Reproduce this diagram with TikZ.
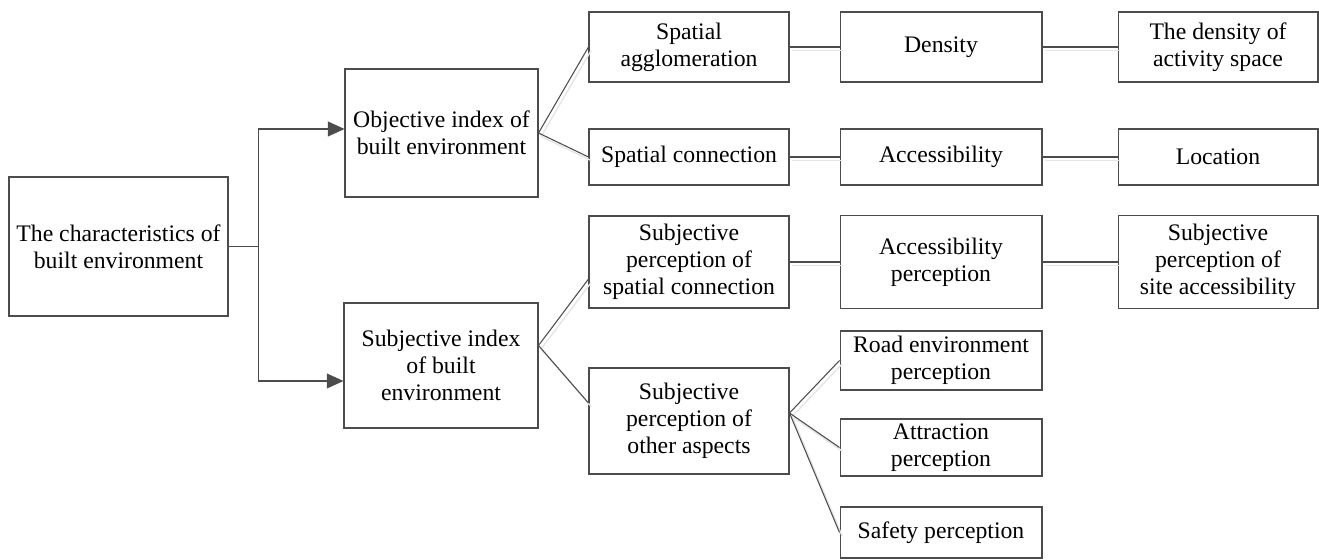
\documentclass[tikz,border=0pt]{standalone}
\usepackage{fontspec}
\setmainfont{Liberation Serif}
\usetikzlibrary{arrows.meta,positioning}

\tikzset{
	box/.style={draw=black!70, line width=0.6pt, align=center, inner sep=0pt,
		font=\fontsize{13.5}{15.4}\selectfont},
	midbox/.style={box, minimum width=4cm},
	rightbox/.style={box, minimum width=4.04cm},
	lastbox/.style={box, minimum width=4cm},
	link/.style={draw=black!70, line width=0.6pt,
		preaction={draw=black!10, line width=0.8pt, transform canvas={xshift=1.5pt,yshift=-2pt}}},
	tip/.style={draw=black!70, line width=0.6pt, -{Triangle[length=9.5pt,width=8.5pt]}}
}

\begin{document}
\begin{tikzpicture}[x=0.02cm, y=-0.02cm]
				\path[use as bounding box]
				(0,0) rectangle (1319,560);
				\node[box, minimum width=4.38cm, minimum height=2.78cm] (root) at (118.5,246.5) {The characteristics of\\built environment};
				\node[box, minimum width=3.86cm, minimum height=2.56cm] (obj) at (441.5,133) {Objective index of\\built environment};
				\node[box, minimum width=3.88cm, minimum height=2.5cm] (subj) at (441,365.5) {Subjective index\\of built\\environment};
				\node[midbox, minimum height=1.4cm] (agg) at (689,47) {Spatial\\agglomeration};
				\node[midbox, minimum height=1.12cm] (conn) at (689,157) {Spatial connection};
				\node[midbox, minimum height=1.84cm] (spsc) at (689,262) {Subjective\\perception of\\spatial connection};
				\node[midbox, minimum height=2.12cm] (spoa) at (689,421) {Subjective\\perception of\\other aspects};
				\node[rightbox, minimum height=1.4cm] (dens) at (941,47) {Density};
				\node[rightbox, minimum height=1.12cm] (acc) at (941,157) {Accessibility};
				\node[rightbox, minimum height=1.86cm] (accper) at (941,262) {Accessibility\\perception};
				\node[rightbox, minimum height=1.18cm] (road) at (941,360.5) {Road environment\\perception};
				\node[rightbox, minimum height=1.14cm] (attr) at (941,447.5) {Attraction\\perception};
				\node[rightbox, minimum height=1.02cm] (safe) at (941,532.5) {Safety perception};
				\node[lastbox, minimum height=1.4cm] (actsp) at (1218,47) {The density of\\activity space};
				\node[lastbox, minimum height=1.12cm] (loc) at (1218,157) {Location};
				\node[lastbox, minimum height=1.86cm] (site) at (1218,262) {Subjective\\perception of\\site accessibility};
				\draw[tip] (root.east) -- ++(30,0) |- ([yshift=0.08cm]obj.west);
				\draw[tip] (root.east) -- ++(30,0) |- ([yshift=-0.31cm]subj.west);
				\draw[link] (obj.east) -- (agg.west);
				\draw[link] (obj.east) -- (conn.west);
				\draw[link] ([yshift=0.4cm]subj.east) -- ([yshift=-0.34cm]spsc.west);
				\draw[link] ([yshift=0.4cm]subj.east) -- ([yshift=0.36cm]spoa.west);
				\draw[link] (agg.east) -- (dens.west);
				\draw[link] (dens.east) -- (actsp.west);
				\draw[link] (conn.east) -- (acc.west);
				\draw[link] (acc.east) -- (loc.west);
				\draw[link] (spsc.east) -- (accper.west);
				\draw[link] (accper.east) -- (site.west);
				\draw[link] ([yshift=0.16cm]spoa.east) -- (road.west);
				\draw[link] ([yshift=0.16cm]spoa.east) -- (attr.west);
				\draw[link] ([yshift=0.16cm]spoa.east) -- (safe.west);
\end{tikzpicture}
\end{document}
